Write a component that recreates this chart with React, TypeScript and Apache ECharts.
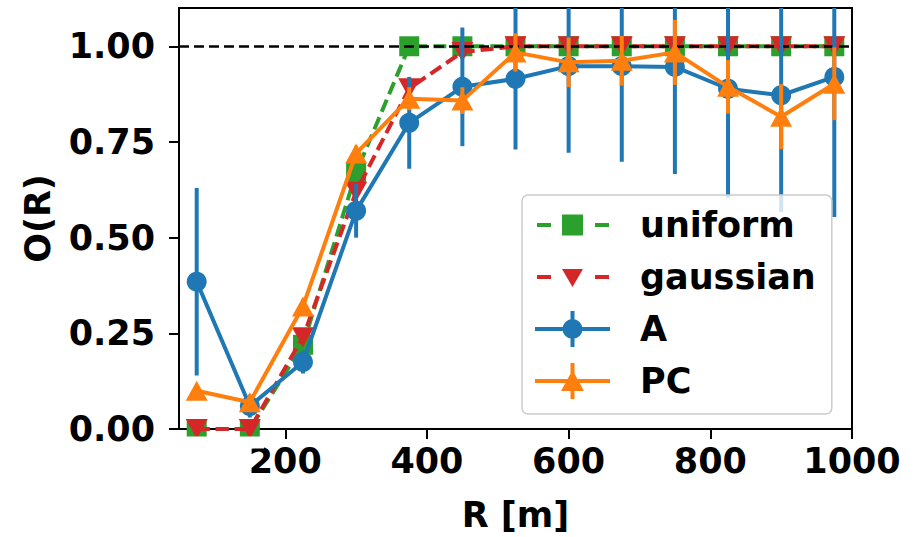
import React, { useEffect, useRef } from "react";
import * as echarts from "echarts";

// Radius of the observation window [m]
const R = [75, 150, 225, 300, 375, 450, 525, 600, 675, 750, 825, 900, 975];

// Reference curves
const uniform = [0, 0, 0.22, 0.67, 1, 1, 1, 1, 1, 1, 1, 1, 1];
const gaussian = [0, 0, 0.24, 0.62, 0.89, 0.985, 1, 1, 1, 1, 1, 1, 1];

// Measured curves with their uncertainties
const A = [0.385, 0.06, 0.175, 0.57, 0.8, 0.894, 0.915, 0.948, 0.948, 0.946, 0.889, 0.872, 0.92];
const A_err = [0.245, 0.03, 0.03, 0.07, 0.12, 0.155, 0.185, 0.226, 0.25, 0.28, 0.285, 0.305, 0.366];
const PC = [0.1, 0.07, 0.32, 0.72, 0.863, 0.858, 0.984, 0.958, 0.962, 0.984, 0.894, 0.816, 0.902];
const PC_err = [0.01, 0.01, 0.02, 0.02, 0.03, 0.035, 0.05, 0.065, 0.065, 0.085, 0.07, 0.085, 0.095];

const xTicks = [200, 400, 600, 800, 1000];
const yTicks = [0, 0.25, 0.5, 0.75, 1];

const FONT = "DejaVu Sans";
const BLUE = "#1f77b4";
const ORANGE = "#ff7f0e";
const GREEN = "#2ca02c";
const RED = "#d62728";

const GRID = { left: 179, top: 8, right: 68, bottom: 102 };
const HEIGHT = 537;

// Legend glyphs (100 x 36 box; the right 25 px stay empty as spacing before the label)
const BOX = "M0 0Z M100 36Z ";
const ICON_UNIFORM =
  "path://" + BOX + "M2 16H16V20H2Z M27 7.5H48V28.5H27Z M60 16H74V20H60Z";
const ICON_GAUSSIAN =
  "path://" + BOX + "M2 16H16V20H2Z M27 10H48L37.5 28Z M60 16H74V20H60Z";
const ICON_A =
  "path://" +
  BOX +
  "M0 16H75V20H0Z M35.5 0H39.5V36H35.5Z M27.5 18A10 10 0 1 1 47.5 18A10 10 0 1 1 27.5 18Z";
const ICON_PC =
  "path://" + BOX + "M0 16H75V20H0Z M35.5 0H39.5V36H35.5Z M26 28L37.5 7L49 28Z";

const labelStyle = {
  fontSize: 35,
  fontWeight: "bold" as const,
  fontFamily: FONT,
  color: "#000",
};

function errorBars(name: string, color: string, vals: number[], errs: number[], z: number) {
  return {
    type: "custom",
    name,
    z,
    clip: true,
    silent: true,
    data: R.map((r, i) => [r, vals[i] - errs[i], vals[i] + errs[i]]),
    encode: { x: 0, y: [1, 2] },
    renderItem: (_params: any, api: any) => {
      const lo = api.coord([api.value(0), api.value(1)]);
      const hi = api.coord([api.value(0), api.value(2)]);
      return {
        type: "line",
        shape: { x1: lo[0], y1: lo[1], x2: hi[0], y2: hi[1] },
        style: { stroke: color, lineWidth: 4 },
      };
    },
  };
}

function lineSeries(
  name: string,
  color: string,
  vals: number[],
  symbol: string,
  symbolSize: number | number[],
  dashed: boolean,
  z: number,
  symbolRotate = 0
) {
  return {
    type: "line",
    name,
    z,
    clip: true,
    silent: true,
    data: R.map((r, i) => [r, vals[i]]),
    symbol,
    symbolSize,
    symbolRotate,
    showAllSymbol: true,
    lineStyle: { color, width: 4, type: dashed ? [13, 6] : "solid" },
    itemStyle: { color, borderWidth: 0 },
  };
}

export default function App() {
  const ref = useRef<HTMLDivElement>(null);

  useEffect(() => {
    if (!ref.current) return;
    const chart = echarts.init(ref.current, undefined, { renderer: "svg" });
    chart.setOption({
      animation: false,
      backgroundColor: "#fff",
      grid: {
        ...GRID,
        show: true,
        borderColor: "#000",
        borderWidth: 2,
        backgroundColor: "transparent",
      },
      xAxis: {
        type: "value",
        min: 50,
        max: 1000,
        splitLine: { show: false },
        axisLine: { show: true, onZero: false, lineStyle: { color: "#000", width: 2 } },
        axisTick: {
          show: true,
          length: 10,
          customValues: xTicks,
          lineStyle: { color: "#000", width: 2 },
        },
        axisLabel: {
          ...labelStyle,
          margin: 14,
          customValues: xTicks,
          formatter: (v: number) => String(v),
        },
        name: "R [m]",
        nameLocation: "middle",
        nameGap: 68,
        nameTextStyle: labelStyle,
      },
      yAxis: {
        type: "value",
        min: 0,
        max: 1.1,
        splitLine: { show: false },
        axisLine: { show: true, lineStyle: { color: "#000", width: 2 } },
        axisTick: {
          show: true,
          length: 10,
          customValues: yTicks,
          lineStyle: { color: "#000", width: 2 },
        },
        axisLabel: {
          ...labelStyle,
          margin: 24,
          customValues: yTicks,
          formatter: (v: number) => v.toFixed(2),
        },
        name: "O(R)",
        nameLocation: "middle",
        nameGap: 124,
        nameTextStyle: labelStyle,
      },
      legend: {
        orient: "vertical",
        left: 522,
        top: 195,
        padding: [12, 16, 15, 13],
        itemGap: 16,
        itemWidth: 100,
        itemHeight: 36,
        backgroundColor: "rgba(255,255,255,0.8)",
        borderColor: "#cccccc",
        borderWidth: 1.5,
        borderRadius: 6,
        selectedMode: false,
        z: 20,
        textStyle: labelStyle,
        itemStyle: { borderWidth: 0 },
        data: [
          { name: "uniform", icon: ICON_UNIFORM, itemStyle: { color: GREEN } },
          { name: "gaussian", icon: ICON_GAUSSIAN, itemStyle: { color: RED } },
          { name: "A", icon: ICON_A, itemStyle: { color: BLUE } },
          { name: "PC", icon: ICON_PC, itemStyle: { color: ORANGE } },
        ],
      },
      // Markers sitting on the lower frame are cut at the axis
      graphic: [
        {
          type: "rect",
          z: 15,
          silent: true,
          shape: {
            x: GRID.left - 15,
            y: HEIGHT - GRID.bottom + 1.5,
            width: 100,
            height: 12,
          },
          style: { fill: "#fff" },
        },
      ],
      series: [
        lineSeries("uniform", GREEN, uniform, "rect", 20, true, 2),
        lineSeries("gaussian", RED, gaussian, "triangle", [22, 20], true, 3, 180),
        {
          type: "line",
          name: "reference",
          data: [],
          z: 4,
          silent: true,
          markLine: {
            z: 4,
            silent: true,
            symbol: "none",
            label: { show: false },
            lineStyle: { color: "#000", type: [10, 5], width: 2.5 },
            data: [{ yAxis: 1 }],
          },
        },
        errorBars("A", BLUE, A, A_err, 5),
        lineSeries("A", BLUE, A, "circle", 20, false, 6),
        errorBars("PC", ORANGE, PC, PC_err, 7),
        lineSeries("PC", ORANGE, PC, "triangle", [22, 20], false, 8),
      ],
    });
    return () => chart.dispose();
  }, []);

  return (
    <div
      ref={ref}
      style={{ position: "fixed", left: 0, top: 0, width: 920, height: 537 }}
    />
  );
}
